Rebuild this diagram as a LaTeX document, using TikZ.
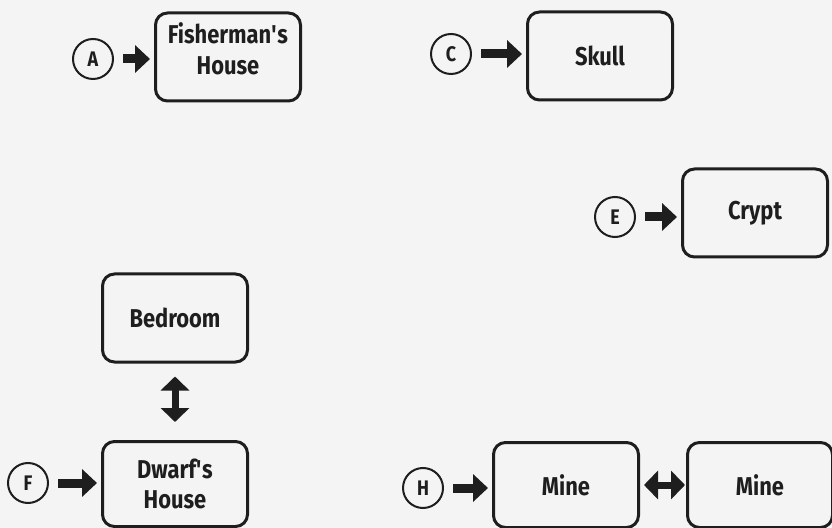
\documentclass[tikz,border=0pt]{standalone}
\usepackage{fontspec}
\setsansfont[FakeStretch=0.85]{Fira Sans}
\usetikzlibrary{arrows.meta}
\definecolor{paper}{HTML}{F4F4F4}
\definecolor{ink}{HTML}{1E1E1E}

\begin{document}
\begin{tikzpicture}[x=0.3mm,y=-0.3mm,
  room/.style={draw=ink,line width=0.9mm,rounded corners=3.6mm,
    minimum width=43.5mm,minimum height=26.4mm,align=center,text=ink,
    font=\sffamily\bfseries\fontsize{22}{26}\selectfont},
  tag/.style={draw=ink,circle,line width=0.6mm,minimum size=12mm,inner sep=0pt,
    text=ink,font=\sffamily\bfseries\fontsize{18}{20}\selectfont},
  go/.style={draw=ink,line width=2.7mm,-{Triangle[length=4.5mm,width=8.1mm]},
    shorten <=2.7mm,shorten >=1.2mm},
  both/.style={draw=ink,line width=2.1mm,
    {Triangle[length=4.2mm,width=8.4mm]}-{Triangle[length=4.2mm,width=8.4mm]}}]
  \fill[paper] (0,0) rectangle (832,528);
  \useasboundingbox (0,0) rectangle (832,528);

  % rooms
  \node[room] (fisher) at (228,57) {Fisherman\textquotesingle s\\House\\[-4mm]\mbox{}};
  \node[room] (skull) at (600,56) {Skull};
  \node[room] (crypt) at (755,213) {Crypt};
  \node[room] (bedroom) at (175,318) {Bedroom};
  \node[room,minimum height=25.5mm] (dwarf) at (175,484) {Dwarf\textquotesingle s\\House};
  \node[room,minimum height=25.5mm] (mineA) at (566,485) {Mine};
  \node[room,minimum height=25.5mm] (mineB) at (760,485) {Mine};

  % entry points
  \node[tag] (A) at (93,59) {A};
  \node[tag] (C) at (451,54) {C};
  \node[tag] (E) at (615,217) {E};
  \node[tag] (F) at (28,483) {F};
  \node[tag] (H) at (423,488) {H};

  \draw[go] (A.east) -- (A.east -| fisher.west);
  \draw[go] (C.east) -- (C.east -| skull.west);
  \draw[go] (E.east) -- (E.east -| crypt.west);
  \draw[go] (F.east) -- (F.east -| dwarf.west);
  \draw[go] (H.east) -- (H.east -| mineA.west);

  % passages
  \draw[both,shorten <=3.9mm,shorten >=5.4mm] (bedroom.south) -- (dwarf.north);
  \draw[both,shorten <=1.2mm,shorten >=0.3mm] (mineA.east) -- (mineB.west |- mineA.east);
\end{tikzpicture}
\end{document}
